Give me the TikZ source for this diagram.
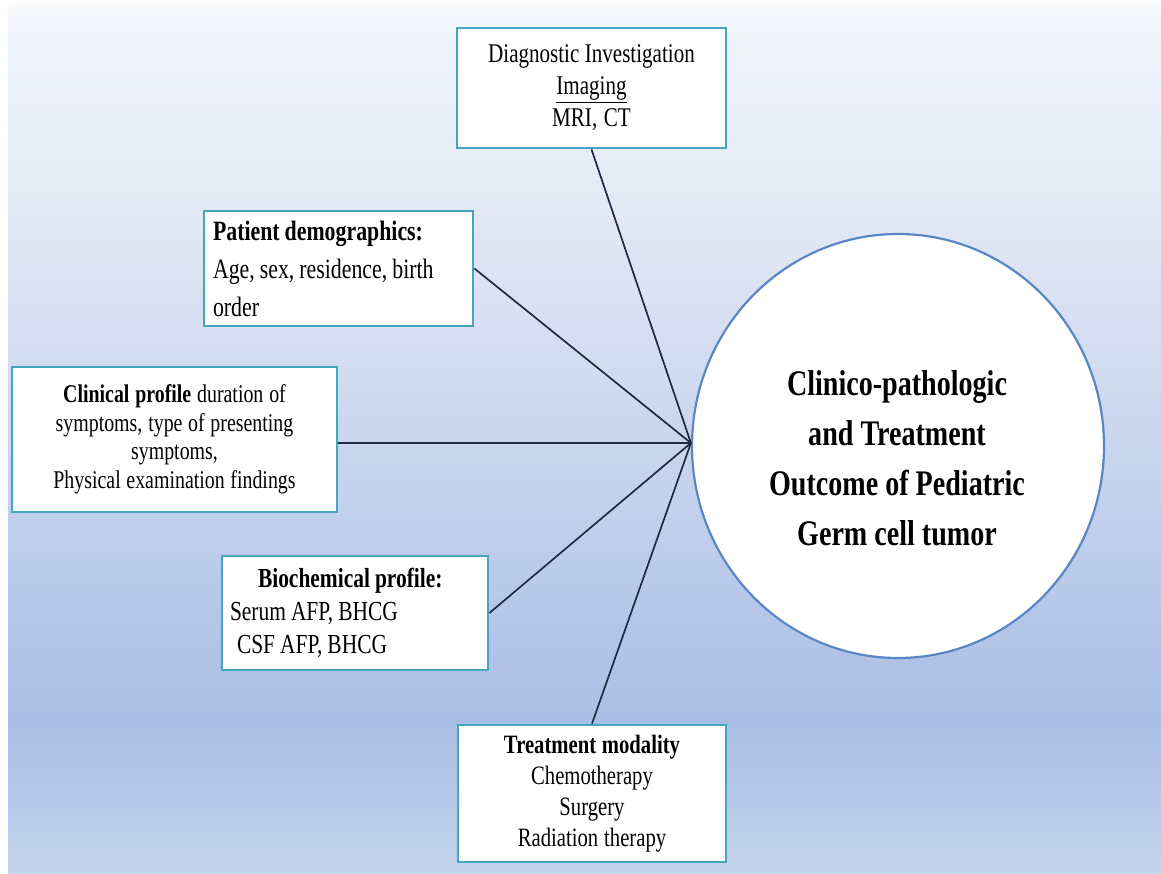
\documentclass[tikz,border=0pt]{standalone}
\usepackage{fontspec}
\setmainfont[FakeStretch=0.78]{Liberation Serif}
\usetikzlibrary{shapes.geometric}
\definecolor{boxline}{HTML}{45A6C0}
\definecolor{circline}{HTML}{5B86C5}
\definecolor{connline}{HTML}{1E2A44}
\definecolor{bgA}{HTML}{F8FAFD}
\definecolor{bgB}{HTML}{F1F4FB}
\definecolor{bgC}{HTML}{E4E9F5}
\definecolor{bgD}{HTML}{C9D6EE}
\definecolor{bgE}{HTML}{A9BEE5}
\definecolor{bgF}{HTML}{C4D4EC}
\pgfdeclareverticalshading{bgshade}{100bp}{color(0bp)=(bgF); color(25bp)=(bgF); color(33.8bp)=(bgE); color(49.8bp)=(bgD); color(63.6bp)=(bgC); color(73.3bp)=(bgB); color(75bp)=(bgA); color(100bp)=(bgA)}
\begin{document}
\begin{tikzpicture}[x=1pt,y=-1pt,
  box/.style={draw=boxline,line width=2.8pt,fill=white,inner xsep=8pt,inner ysep=2pt,align=center,
    execute at begin node={\spaceskip=5pt plus 1pt minus 1pt\relax}},
  link/.style={draw=connline,line width=1.7pt}]
\useasboundingbox (0,0) rectangle (1161,874);
\fill[white] (0,0) rectangle (1161,874);
\shade[shading=bgshade] (8,4) rectangle (1161,874);

\node[box,minimum width=269pt,minimum height=120pt,text width=253pt,font=\fontsize{27}{32}\selectfont] (diag) at (591.5,88)
  {Diagnostic Investigation\\\underline{Imaging}\\MRI, CT};
\node[box,align=left,inner xsep=9pt,minimum width=269pt,minimum height=115pt,text width=251pt,font=\fontsize{28}{38}\selectfont] (pat) at (338.5,268.5)
  {\textbf{Patient demographics:}\\Age, sex, residence, birth\\order};
\node[box,minimum width=325pt,minimum height=145pt,text width=309pt,font=\fontsize{25.5}{28.5}\selectfont] (clin) at (174.5,439.5)
  {\textbf{Clinical profile} duration of\\symptoms, type of presenting\\symptoms,\\Physical examination findings};
\node[box,align=left,minimum width=266pt,minimum height=114pt,text width=250pt,font=\fontsize{27.5}{33}\selectfont] (bio) at (355,613)
  {\hspace*{28pt}\textbf{Biochemical profile:}\\Serum AFP, BHCG\\\hspace*{7pt}CSF AFP, BHCG};
\node[box,minimum width=268pt,minimum height=137pt,text width=252pt,font=\fontsize{26.5}{31}\selectfont] (treat) at (592,793.5)
  {\textbf{Treatment modality}\\Chemotherapy\\Surgery\\Radiation therapy};

\node[ellipse,draw=circline,line width=2.2pt,fill=white,minimum width=412pt,minimum height=424pt,inner sep=0pt] (c) at (898,446) {};
\node[font=\bfseries\fontsize{36}{50}\selectfont,align=center] (ct) at (897,458)
  {Clinico-pathologic\\and Treatment\\Outcome of Pediatric\\Germ cell tumor};

\coordinate (hub) at ([yshift=3pt]c.west);
\draw[link] (diag.south) -- (hub);
\draw[link] (pat.east) -- (hub);
\draw[link] (clin.east |- hub) -- (hub);
\draw[link] (bio.east) -- (hub);
\draw[link] (treat.north) -- (hub);
\end{tikzpicture}
\end{document}
